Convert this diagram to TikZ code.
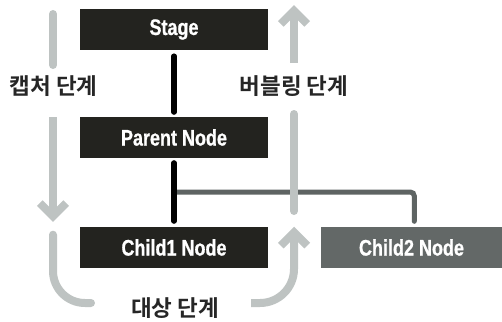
\documentclass[tikz,border=0pt]{standalone}
\usepackage{fontspec}
\newfontfamily\labfont{Liberation Sans Bold}[FakeStretch=0.8, FakeBold=0.8]
\newfontfamily\krfont{Noto Sans CJK KR Bold}
\definecolor{boxdark}{HTML}{23231F}
\definecolor{boxgray}{HTML}{636867}
\definecolor{flowgray}{HTML}{BEC3C2}
\definecolor{subgray}{HTML}{5E6463}
\definecolor{labelink}{HTML}{262626}
\begin{document}
\begin{tikzpicture}[x=1pt,y=-1pt,
  box/.style={rectangle, inner sep=0pt, minimum width=188pt, minimum height=41pt,
    fill=boxdark, text=white, font=\labfont\fontsize{22.5}{25}\selectfont},
  phase/.style={inner sep=0pt, text=labelink, font=\krfont\fontsize{22.5}{26}\selectfont},
  link/.style={draw=black, line width=5.5pt, line cap=round},
  sublink/.style={draw=subgray, line width=5pt, line cap=round},
  flow/.style={draw=flowgray, line width=8pt},
  chevron/.style={draw=flowgray, line width=8pt, line join=miter}]
\useasboundingbox (0,0) rectangle (502,321);

% tree of nodes
\node[box] (stage)  at (174,29.5)  {Stage};
\node[box] (parent) at (174,137.5) {Parent Node};
\node[box] (child1) at (174,247.5) {Child1 Node};
\node[box, fill=boxgray, minimum width=181pt] (child2) at (411.5,247.5) {Child2 Node};

% phase labels
\node[phase] (cap) at (53.5,86)  {캡처 단계};
\node[phase] (bub) at (294,86)   {버블링 단계};
\node[phase] (tgt) at (175,308)  {대상 단계};

% branch to the second child
\coordinate (j) at (174,192);
\draw[sublink, rounded corners=4pt, shorten >=5.5pt] (j) -| ([xshift=2.8pt]child2.north);

% parent-child links
\draw[link, shorten <=6pt, shorten >=4.75pt] (stage) -- (parent);
\draw[link, shorten <=4.75pt, shorten >=5.75pt] (parent) -- (child1);

% capture phase: downward arrow
\draw[flow, line cap=round] (53,14) -- (53,65);
\draw[flow] (53,117) -- (53,216.3);
\draw[chevron] (39.8,203.1) -- (53,216.3) -- (66.2,203.1);

% target phase: bend along the bottom
\draw[flow, line cap=round, rounded corners=32pt] (53,234.7) -- (53,303) -- (91,303);
\draw[flow, rounded corners=34pt] (251,303) -- (294,303) -- (294,232.4);
\draw[chevron] (280.8,245.6) -- (294,232.4) -- (307.2,245.6);

% bubbling phase: upward arrow
\draw[flow, line cap=round] (294,211) -- (294,114);
\draw[flow] (294,63) -- (294,10.7);
\draw[chevron] (280.8,23.9) -- (294,10.7) -- (307.2,23.9);
\end{tikzpicture}
\end{document}
